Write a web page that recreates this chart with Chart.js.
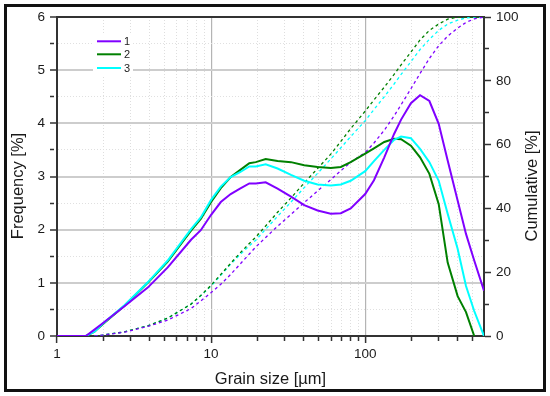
<!DOCTYPE html>
<html><head><meta charset="utf-8">
<script src="https://cdn.jsdelivr.net/npm/chart.js@4.4.1/dist/chart.umd.min.js"></script>
<style>
html,body{margin:0;padding:0;background:#fff;}
#wrap{position:relative;width:550px;height:396px;overflow:hidden;}
#frame{position:absolute;left:4px;top:4px;width:536px;height:382px;border:3px solid #111;pointer-events:none;}
canvas{position:absolute;left:0;top:0;}
</style></head><body>
<div id="wrap"><canvas id="c" width="550" height="396"></canvas><div id="frame"></div></div>
<script>
// Grain size classes [µm]
const sizes = [1, 1.54, 1.75, 1.98, 2.74, 3.88, 5.23, 7.41, 8.57, 10,
  11.56, 13.4, 15.4, 17.7, 19.5, 22.6, 27, 33, 40.2, 49.1,
  59.8, 69.5, 80.5, 100, 114, 133, 154, 171, 198, 227,
  261, 300, 343, 398, 451, 510, 590];
// Frequency [%]
const freq1 = [0, 0, 0.12, 0.24, 0.56, 0.91, 1.29, 1.81, 1.99, 2.28,
  2.52, 2.67, 2.77, 2.87, 2.87, 2.89, 2.77, 2.62, 2.46, 2.36,
  2.30, 2.31, 2.40, 2.67, 2.93, 3.36, 3.80, 4.07, 4.38, 4.53,
  4.42, 3.99, 3.30, 2.55, 1.92, 1.42, 0.85];
const freq2 = [0, 0, 0.08, 0.22, 0.57, 1.00, 1.40, 1.98, 2.20, 2.52,
  2.78, 2.99, 3.12, 3.25, 3.27, 3.33, 3.29, 3.27, 3.21, 3.18,
  3.16, 3.18, 3.27, 3.43, 3.53, 3.65, 3.71, 3.70, 3.58, 3.36,
  3.05, 2.48, 1.38, 0.75, 0.45, 0, null];
const freq3 = [0, 0, 0.08, 0.23, 0.58, 1.01, 1.42, 2.01, 2.23, 2.56,
  2.81, 2.99, 3.08, 3.19, 3.19, 3.23, 3.15, 3.03, 2.92, 2.85,
  2.83, 2.85, 2.92, 3.10, 3.29, 3.50, 3.69, 3.75, 3.72, 3.52,
  3.27, 2.92, 2.30, 1.64, 0.94, 0.47, 0];
// Cumulative [%]
const cum1 = [null, null, 0, 0.3, 1.2, 3.0, 5.0, 8.6, 11.0, 13.6,
  16.2, 19.3, 22.5, 25.7, 27.9, 30.9, 34.4, 38.1, 41.8, 45.5,
  49.0, 51.8, 54.5, 57.5, 60.5, 64.5, 69, 72.5, 77.5, 82.3,
  87, 91, 94, 96.5, 98.3, 99.4, 100];
const cum2 = [null, null, 0, 0.3, 1.3, 3.2, 5.6, 10.0, 12.7, 15.9,
  19.3, 22.8, 26, 29, 31, 34.5, 38.8, 43.3, 48, 52.5,
  57, 61, 65, 70.5, 74, 78, 82, 85, 89, 92.8,
  95.8, 97.8, 99.3, 100, 100, 100, 100];
const cum3 = [null, null, 0, 0.3, 1.3, 3.2, 5.6, 10.0, 12.6, 15.7,
  19, 22.5, 25.5, 28.3, 30, 33.5, 37.5, 42, 46.5, 51,
  55.5, 59, 62.5, 67.5, 71, 75, 79, 82, 86, 89.8,
  93, 95.8, 97.8, 99, 99.7, 100, 100];

const seriesLabels = ['1', '2', '3'];
const seriesColors = ['#8000ff', '#008000', '#00ffff'];
const xTickValues = [1,2,3,4,5,6,7,8,9,10,20,30,40,50,60,70,80,90,100,200,300,400,500];
const xLabeled = [1, 10, 100];
const yTickValues = [0,0.5,1,1.5,2,2.5,3,3.5,4,4.5,5,5.5,6];
const y2TickValues = [0,10,20,30,40,50,60,70,80,90,100];
const xTitle = 'Grain size [µm]';
const yTitle = 'Frequency [%]';
const y2Title = 'Cumulative [%]';

Chart.defaults.font.family = "'Liberation Sans', Arial, sans-serif";

function pts(arr) { return sizes.map((x, i) => ({x: x, y: arr[i]})); }
const tv = (ctx) => (ctx && ctx.tick) ? ctx.tick.value : null;

const freqSets = [freq1, freq2, freq3];
const cumSets = [cum1, cum2, cum3];
const datasets = [];
const freqOrder = [1, 3, 2];
freqSets.forEach((arr, i) => datasets.push({
  label: seriesLabels[i], data: pts(arr), yAxisID: 'y',
  borderColor: seriesColors[i], borderWidth: 2, pointRadius: 0, tension: 0, fill: false, order: freqOrder[i]
}));
cumSets.forEach((arr, i) => datasets.push({
  label: seriesLabels[i] + ' cum', data: pts(arr), yAxisID: 'y2',
  borderColor: seriesColors[i], borderWidth: 1.3, borderDash: [3, 3], pointRadius: 0, tension: 0, fill: false, order: 4 + i
}));

const decor = {
  id: 'decor',
  beforeDatasetsDraw(chart) {
    const ctx = chart.ctx, ca = chart.chartArea;
    ctx.save();
    ctx.fillStyle = '#fff';
    ctx.fillRect(ca.left + 36, ca.top + 16, 40, 44);
    const ys = [24.3, 37.3, 51];
    seriesLabels.forEach((lab, i) => {
      ctx.strokeStyle = seriesColors[i];
      ctx.lineWidth = 2;
      ctx.beginPath();
      ctx.moveTo(ca.left + 40, ca.top + ys[i]);
      ctx.lineTo(ca.left + 64, ca.top + ys[i]);
      ctx.stroke();
      ctx.fillStyle = '#222';
      ctx.font = "11px 'Liberation Sans', Arial, sans-serif";
      ctx.textAlign = 'left';
      ctx.textBaseline = 'middle';
      ctx.fillText(lab, ca.left + 67, ca.top + ys[i] + 0.5);
    });
    ctx.restore();
  },
  afterDraw(chart) {
    const ctx = chart.ctx, ca = chart.chartArea;
    const cy = (ca.top + ca.bottom) / 2 + 9.5;
    ctx.save();
    ctx.fillStyle = '#1a1a1a';
    ctx.font = "16.5px 'Liberation Sans', Arial, sans-serif";
    ctx.textAlign = 'center';
    ctx.textBaseline = 'middle';
    ctx.translate(18.5, cy);
    ctx.rotate(-Math.PI / 2);
    ctx.fillText(yTitle, 0, 0);
    ctx.restore();
    ctx.save();
    ctx.fillStyle = '#1a1a1a';
    ctx.font = "16.5px 'Liberation Sans', Arial, sans-serif";
    ctx.textAlign = 'center';
    ctx.textBaseline = 'middle';
    ctx.translate(532.5, cy);
    ctx.rotate(-Math.PI / 2);
    ctx.fillText(y2Title, 0, 0);
    ctx.restore();
  }
};

new Chart(document.getElementById('c'), {
  type: 'line',
  data: { datasets: datasets },
  plugins: [decor],
  options: {
    responsive: false, animation: false,
    layout: { padding: { left: 32.5, right: 26.5, top: 17, bottom: 3 } },
    plugins: { legend: { display: false }, tooltip: { enabled: false } },
    scales: {
      x: {
        type: 'logarithmic', position: 'bottom', min: 1, max: 590,
        afterBuildTicks: (s) => { s.ticks = xTickValues.map(v => ({value: v})); },
        ticks: { autoSkip: false, maxRotation: 0, minRotation: 0, padding: 3, color: '#1a1a1a', font: {size: 13.5},
          callback: (v) => xLabeled.includes(v) ? String(v) : '' },
        grid: {
          color: (c) => { const v = tv(c); if (v === 1) return 'rgba(0,0,0,0)'; return xLabeled.includes(v) ? '#b4b4b4' : '#dedede'; },
          lineWidth: (c) => xLabeled.includes(tv(c)) ? 1.2 : 1,
          tickLength: 7, tickColor: '#333', tickWidth: 1.5,
          tickBorderDash: (c) => xLabeled.includes(tv(c)) ? [] : [4, 20]
        },
        border: { color: '#333', width: 2, dash: (c) => xLabeled.includes(tv(c)) ? [] : [1, 2] },
        title: { display: true, text: xTitle, color: '#1a1a1a', font: {size: 16.5}, padding: {top: 4, bottom: 4} }
      },
      xt: {
        type: 'logarithmic', position: 'top', min: 1, max: 590,
        ticks: { display: false },
        grid: { display: false, drawTicks: false, tickLength: 0 },
        border: { display: true, color: '#333', width: 2 }
      },
      y: {
        type: 'linear', position: 'left', min: 0, max: 6,
        afterBuildTicks: (s) => { s.ticks = yTickValues.map(v => ({value: v})); },
        ticks: { autoSkip: false, padding: 5, color: '#1a1a1a', font: {size: 13.5},
          callback: (v) => Number.isInteger(v) ? String(v) : '' },
        grid: {
          color: (c) => { const v = tv(c); if (v === 0 || v === 6) return 'rgba(0,0,0,0)'; return Number.isInteger(v) ? '#cdcdcd' : '#e0e0e0'; },
          lineWidth: (c) => Number.isInteger(tv(c)) ? 2 : 1,
          tickLength: 7, tickColor: '#333', tickWidth: 1.5,
          tickBorderDash: (c) => Number.isInteger(tv(c)) ? [] : [4, 20]
        },
        border: { color: '#333', width: 2, dash: (c) => Number.isInteger(tv(c)) ? [] : [1, 2] }
      },
      y2: {
        type: 'linear', position: 'right', min: 0, max: 100,
        afterBuildTicks: (s) => { s.ticks = y2TickValues.map(v => ({value: v})); },
        ticks: { autoSkip: false, padding: 5, color: '#1a1a1a', font: {size: 13.5},
          callback: (v) => (v % 20 === 0) ? String(v) : '' },
        grid: {
          drawOnChartArea: false, tickLength: 7, tickColor: '#333', tickWidth: 1.5,
          tickBorderDash: (c) => (tv(c) % 20 === 0) ? [] : [4, 20]
        },
        border: { color: '#333', width: 2 }
      }
    }
  }
});
</script>
</body></html>
